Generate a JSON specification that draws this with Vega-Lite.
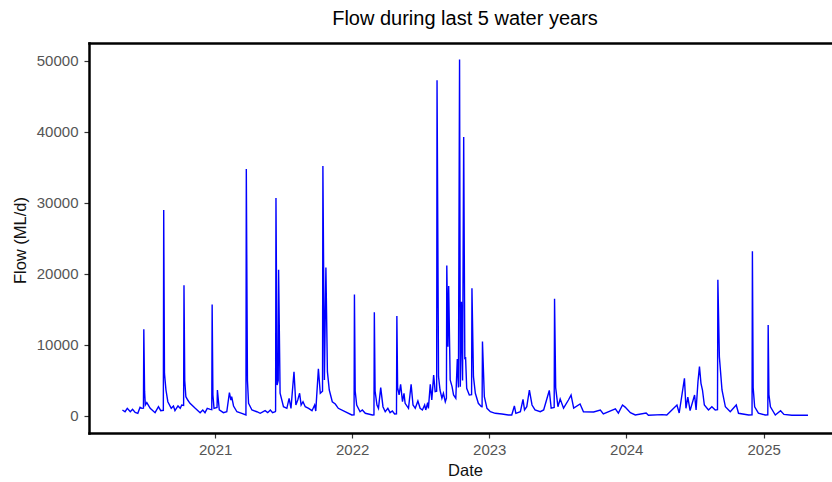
{
  "$schema": "https://vega.github.io/schema/vega-lite/v6.json",
  "width": 743,
  "height": 390,
  "autosize": {"type": "none"},
  "padding": {"left": 89, "top": 43, "right": 0, "bottom": 49},
  "background": "white",
  "title": {"text": "Flow during last 5 water years", "font": "Liberation Sans", "fontSize": 20, "fontWeight": "normal", "color": "black", "anchor": "middle", "frame": "group", "offset": 14, "dx": 4.5},
  "config": {
    "view": {"stroke": null},
    "axis": {
      "grid": false,
      "domainColor": "black", "domainWidth": 2.5, "domainCap": "square",
      "tickColor": "#333333", "tickWidth": 1.2, "tickSize": 5,
      "labelColor": "#555555", "labelFont": "Liberation Sans", "labelFontSize": 15,
      "titleColor": "#111111", "titleFont": "Liberation Sans", "titleFontSize": 16.5, "titleFontWeight": "normal"
    }
  },
  "data": {"values": [
    {"date":"2020-04-29","flow":850},{"date":"2020-05-06","flow":600},{"date":"2020-05-12","flow":1080},{"date":"2020-05-20","flow":600},{"date":"2020-05-26","flow":940},{"date":"2020-06-02","flow":510},{"date":"2020-06-09","flow":380},{"date":"2020-06-15","flow":1220},{"date":"2020-06-20","flow":1080},{"date":"2020-06-24","flow":1100},{"date":"2020-06-25","flow":12200},{"date":"2020-06-27","flow":3500},{"date":"2020-06-29","flow":1550},{"date":"2020-07-03","flow":1880},{"date":"2020-07-12","flow":1080},{"date":"2020-07-25","flow":470},{"date":"2020-08-03","flow":1310},{"date":"2020-08-09","flow":750},{"date":"2020-08-16","flow":800},{"date":"2020-08-17","flow":29000},{"date":"2020-08-19","flow":6000},{"date":"2020-08-23","flow":3660},{"date":"2020-08-28","flow":2010},{"date":"2020-09-06","flow":1080},{"date":"2020-09-12","flow":1410},{"date":"2020-09-16","flow":750},{"date":"2020-09-24","flow":1410},{"date":"2020-09-30","flow":1080},{"date":"2020-10-04","flow":1550},{"date":"2020-10-09","flow":1500},{"date":"2020-10-10","flow":18400},{"date":"2020-10-12","flow":5000},{"date":"2020-10-15","flow":2720},{"date":"2020-10-20","flow":2250},{"date":"2020-10-26","flow":1790},{"date":"2020-11-09","flow":1080},{"date":"2020-11-22","flow":470},{"date":"2020-11-29","flow":850},{"date":"2020-12-05","flow":470},{"date":"2020-12-11","flow":1080},{"date":"2020-12-19","flow":940},{"date":"2020-12-23","flow":900},{"date":"2020-12-24","flow":15700},{"date":"2020-12-26","flow":3000},{"date":"2020-12-29","flow":1080},
    {"date":"2021-01-06","flow":1200},{"date":"2021-01-07","flow":3660},{"date":"2021-01-12","flow":850},{"date":"2021-01-23","flow":470},{"date":"2021-02-01","flow":600},{"date":"2021-02-08","flow":3280},{"date":"2021-02-12","flow":2250},{"date":"2021-02-14","flow":2720},{"date":"2021-02-19","flow":1410},{"date":"2021-02-28","flow":600},{"date":"2021-03-13","flow":380},{"date":"2021-03-24","flow":140},{"date":"2021-03-25","flow":34800},{"date":"2021-03-28","flow":5000},{"date":"2021-03-31","flow":1790},{"date":"2021-04-09","flow":850},{"date":"2021-04-22","flow":600},{"date":"2021-05-01","flow":380},{"date":"2021-05-14","flow":750},{"date":"2021-05-21","flow":470},{"date":"2021-05-28","flow":850},{"date":"2021-06-03","flow":470},{"date":"2021-06-10","flow":600},{"date":"2021-06-11","flow":700},{"date":"2021-06-12","flow":30700},{"date":"2021-06-15","flow":4370},{"date":"2021-06-18","flow":5000},{"date":"2021-06-19","flow":20600},{"date":"2021-06-23","flow":3200},{"date":"2021-07-02","flow":1310},{"date":"2021-07-11","flow":1080},{"date":"2021-07-17","flow":2490},{"date":"2021-07-22","flow":1080},{"date":"2021-07-30","flow":6240},{"date":"2021-08-04","flow":1550},{"date":"2021-08-09","flow":2250},{"date":"2021-08-14","flow":3200},{"date":"2021-08-18","flow":1550},{"date":"2021-08-23","flow":2010},{"date":"2021-08-29","flow":1310},{"date":"2021-09-07","flow":1080},{"date":"2021-09-16","flow":750},{"date":"2021-09-23","flow":1550},{"date":"2021-09-26","flow":700},{"date":"2021-10-03","flow":6660},{"date":"2021-10-08","flow":3200},{"date":"2021-10-14","flow":3500},{"date":"2021-10-15","flow":35200},{"date":"2021-10-19","flow":5070},{"date":"2021-10-23","flow":20900},{"date":"2021-10-27","flow":6240},{"date":"2021-11-01","flow":3660},{"date":"2021-11-09","flow":2010},{"date":"2021-11-17","flow":1690},{"date":"2021-11-25","flow":1080},{"date":"2021-12-13","flow":600},{"date":"2021-12-31","flow":140},
    {"date":"2022-01-06","flow":150},{"date":"2022-01-07","flow":17100},{"date":"2022-01-09","flow":3500},{"date":"2022-01-13","flow":1550},{"date":"2022-01-22","flow":600},{"date":"2022-01-28","flow":850},{"date":"2022-02-05","flow":380},{"date":"2022-02-24","flow":140},{"date":"2022-02-28","flow":150},{"date":"2022-03-01","flow":14600},{"date":"2022-03-03","flow":3500},{"date":"2022-03-08","flow":1550},{"date":"2022-03-12","flow":1080},{"date":"2022-03-18","flow":4000},{"date":"2022-03-24","flow":1310},{"date":"2022-03-30","flow":600},{"date":"2022-04-06","flow":1080},{"date":"2022-04-12","flow":470},{"date":"2022-04-18","flow":700},{"date":"2022-04-24","flow":280},{"date":"2022-04-29","flow":300},{"date":"2022-04-30","flow":14100},{"date":"2022-05-02","flow":4000},{"date":"2022-05-06","flow":2960},{"date":"2022-05-10","flow":4460},{"date":"2022-05-15","flow":2010},{"date":"2022-05-19","flow":3200},{"date":"2022-05-22","flow":1790},{"date":"2022-05-31","flow":1080},{"date":"2022-06-07","flow":4460},{"date":"2022-06-12","flow":1550},{"date":"2022-06-18","flow":1080},{"date":"2022-06-25","flow":2110},{"date":"2022-07-01","flow":1080},{"date":"2022-07-07","flow":850},{"date":"2022-07-13","flow":1550},{"date":"2022-07-16","flow":850},{"date":"2022-07-21","flow":1880},{"date":"2022-07-23","flow":1080},{"date":"2022-07-28","flow":4460},{"date":"2022-08-01","flow":2250},{"date":"2022-08-06","flow":5770},{"date":"2022-08-10","flow":3430},{"date":"2022-08-14","flow":3500},{"date":"2022-08-15","flow":47300},{"date":"2022-08-19","flow":5540},{"date":"2022-08-23","flow":3660},{"date":"2022-08-28","flow":2490},{"date":"2022-09-01","flow":3200},{"date":"2022-09-06","flow":2010},{"date":"2022-09-09","flow":2500},{"date":"2022-09-10","flow":21200},{"date":"2022-09-13","flow":9760},{"date":"2022-09-15","flow":18300},{"date":"2022-09-19","flow":5070},{"date":"2022-09-24","flow":4130},{"date":"2022-09-28","flow":2960},{"date":"2022-10-04","flow":2490},{"date":"2022-10-08","flow":8030},{"date":"2022-10-11","flow":4000},{"date":"2022-10-14","flow":50200},{"date":"2022-10-16","flow":4130},{"date":"2022-10-19","flow":16100},{"date":"2022-10-22","flow":5000},{"date":"2022-10-25","flow":39300},{"date":"2022-10-28","flow":8000},{"date":"2022-10-30","flow":8300},{"date":"2022-11-02","flow":3900},{"date":"2022-11-09","flow":2960},{"date":"2022-11-15","flow":3000},{"date":"2022-11-16","flow":18000},{"date":"2022-11-20","flow":5540},{"date":"2022-11-25","flow":3200},{"date":"2022-12-03","flow":1790},{"date":"2022-12-11","flow":1310},{"date":"2022-12-13","flow":1300},{"date":"2022-12-14","flow":10500},{"date":"2022-12-19","flow":2720},{"date":"2022-12-26","flow":1080},
    {"date":"2023-01-04","flow":600},{"date":"2023-01-17","flow":380},{"date":"2023-02-04","flow":280},{"date":"2023-02-21","flow":140},{"date":"2023-03-02","flow":140},{"date":"2023-03-09","flow":1410},{"date":"2023-03-13","flow":380},{"date":"2023-03-25","flow":600},{"date":"2023-04-01","flow":2350},{"date":"2023-04-05","flow":850},{"date":"2023-04-11","flow":1310},{"date":"2023-04-18","flow":3660},{"date":"2023-04-25","flow":1550},{"date":"2023-05-03","flow":850},{"date":"2023-05-17","flow":600},{"date":"2023-05-26","flow":850},{"date":"2023-06-04","flow":2500},{"date":"2023-06-10","flow":3600},{"date":"2023-06-15","flow":1100},{"date":"2023-06-23","flow":1200},{"date":"2023-06-24","flow":16500},{"date":"2023-06-27","flow":4000},{"date":"2023-07-03","flow":1300},{"date":"2023-07-09","flow":2400},{"date":"2023-07-18","flow":1100},{"date":"2023-07-31","flow":2250},{"date":"2023-08-07","flow":2950},{"date":"2023-08-14","flow":1100},{"date":"2023-08-31","flow":1700},{"date":"2023-09-09","flow":600},{"date":"2023-10-06","flow":560},{"date":"2023-10-24","flow":850},{"date":"2023-11-01","flow":280},{"date":"2023-12-03","flow":1000},{"date":"2023-12-11","flow":400},{"date":"2023-12-22","flow":1550},{"date":"2023-12-29","flow":1250},
    {"date":"2024-01-12","flow":460},{"date":"2024-01-25","flow":140},{"date":"2024-02-23","flow":420},{"date":"2024-02-29","flow":100},{"date":"2024-04-05","flow":190},{"date":"2024-04-18","flow":140},{"date":"2024-05-15","flow":1550},{"date":"2024-05-21","flow":420},{"date":"2024-06-04","flow":5300},{"date":"2024-06-08","flow":1080},{"date":"2024-06-13","flow":2670},{"date":"2024-06-19","flow":750},{"date":"2024-07-01","flow":2960},{"date":"2024-07-05","flow":850},{"date":"2024-07-10","flow":4830},{"date":"2024-07-14","flow":6950},{"date":"2024-07-18","flow":4600},{"date":"2024-07-22","flow":3660},{"date":"2024-07-27","flow":1550},{"date":"2024-08-07","flow":850},{"date":"2024-08-16","flow":1300},{"date":"2024-08-25","flow":850},{"date":"2024-08-31","flow":900},{"date":"2024-09-01","flow":19200},{"date":"2024-09-05","flow":8350},{"date":"2024-09-12","flow":3660},{"date":"2024-09-21","flow":1300},{"date":"2024-10-04","flow":600},{"date":"2024-10-20","flow":1550},{"date":"2024-10-26","flow":380},{"date":"2024-11-22","flow":140},{"date":"2024-12-01","flow":150},{"date":"2024-12-02","flow":23200},{"date":"2024-12-04","flow":4000},{"date":"2024-12-08","flow":1300},{"date":"2024-12-18","flow":400},
    {"date":"2025-01-05","flow":140},{"date":"2025-01-12","flow":150},{"date":"2025-01-13","flow":12800},{"date":"2025-01-15","flow":3000},{"date":"2025-01-19","flow":1300},{"date":"2025-02-01","flow":140},{"date":"2025-02-15","flow":750},{"date":"2025-02-24","flow":230},{"date":"2025-03-17","flow":100},{"date":"2025-04-29","flow":100}
  ]},
  "resolve": {"axis": {"x": "independent"}},
  "layer": [
    {
      "mark": {"type": "line", "color": "#0000FF", "strokeWidth": 1.4},
      "encoding": {
        "x": {
          "field": "date", "type": "temporal",
          "scale": {"type": "utc", "domain": [{"year": 2020, "month": 1, "date": 31, "utc": true}, {"year": 2025, "month": 7, "date": 2, "utc": true}]},
          "axis": {"orient": "bottom", "tickCount": "year", "format": "%Y", "labelPadding": 4, "title": "Date", "titleX": 376, "titleY": 37, "titleBaseline": "middle"}
        },
        "y": {
          "field": "flow", "type": "quantitative",
          "scale": {"domain": [-2395, 52535], "nice": false, "zero": false},
          "axis": {"values": [0, 10000, 20000, 30000, 40000, 50000], "format": "d", "labelPadding": 6, "title": "Flow (ML/d)", "titleX": -69, "titleY": 197, "titleBaseline": "middle"}
        }
      }
    },
    {
      "mark": {"type": "line", "opacity": 0},
      "encoding": {
        "x": {
          "field": "date", "type": "temporal",
          "axis": {"orient": "top", "labels": false, "ticks": false, "title": null}
        },
        "y": {"field": "flow", "type": "quantitative"}
      }
    }
  ]
}
